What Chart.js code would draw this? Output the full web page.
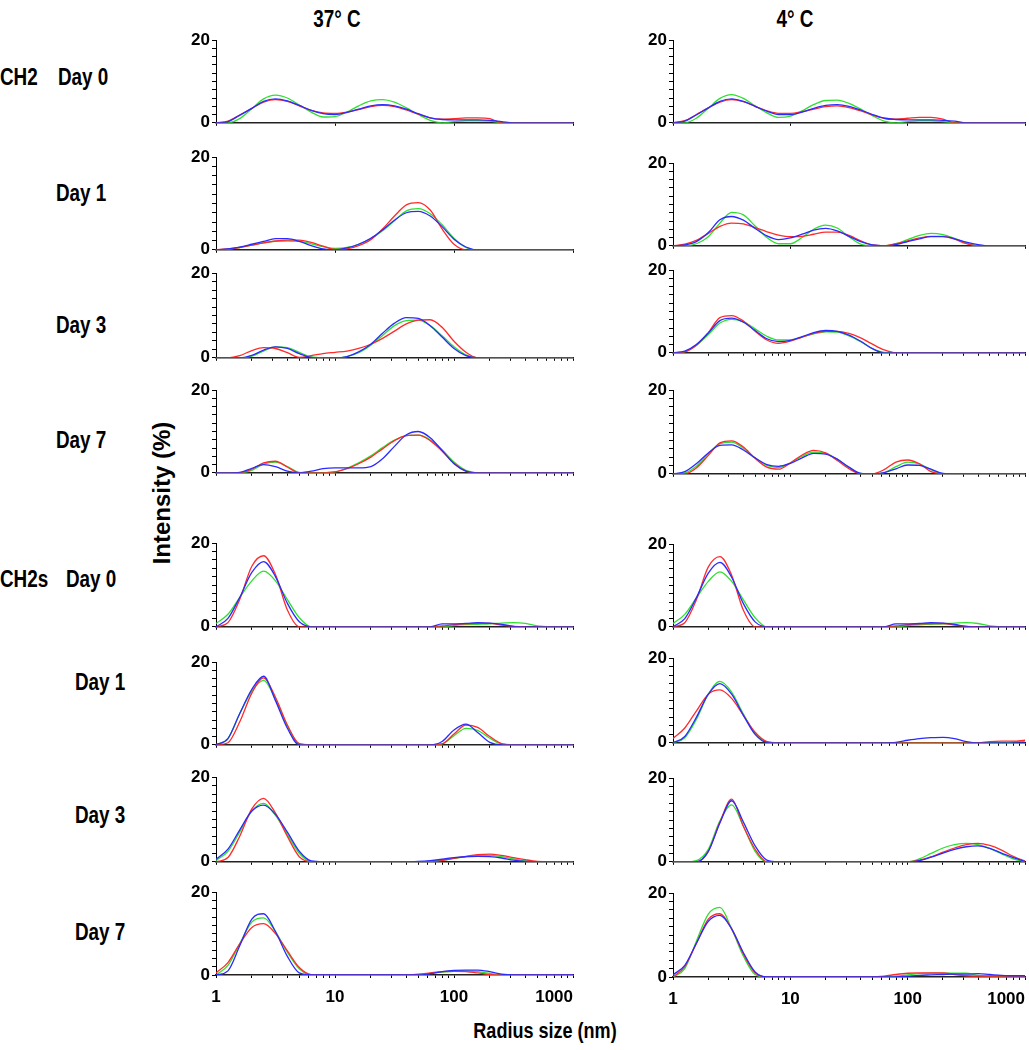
<!DOCTYPE html>
<html lang="en">
<head>
<meta charset="UTF-8">
<title>Radius size distributions CH2 / CH2s</title>
<script src="https://cdn.jsdelivr.net/npm/chart.js@4.4.0/dist/chart.umd.min.js"></script>
<style>
    body {
        margin: 0;
        width: 1029px;
        height: 1050px;
        overflow: hidden;
        position: relative;
        background: #fff;
        color: #000;
        font-family: 'Liberation Sans', Arial, sans-serif;
        font-weight: bold;
    }
    .lbl {
        position: absolute;
        font-size: 23px;
        line-height: 1;
        white-space: nowrap;
        transform-origin: 0 50%;
        transform: translateY(-50%) scaleX(0.82);
    }
    .center { transform-origin: 50% 50%; transform: translate(-50%, -50%) scaleX(0.82); }
    .vert { transform-origin: 50% 50%; transform: translate(-50%, -50%) rotate(-90deg); font-size: 24px; }
    canvas { position: absolute; }
</style>
</head>
<body>
    <div class="lbl center" style="left:337px; top:19px;">37° C</div>
    <div class="lbl center" style="left:795px; top:19px;">4° C</div>

    <div class="lbl" style="left:0px; top:77px;">CH2</div>
    <div class="lbl" style="left:58px; top:77px;">Day 0</div>
    <div class="lbl" style="left:56px; top:193px;">Day 1</div>
    <div class="lbl" style="left:56px; top:325px;">Day 3</div>
    <div class="lbl" style="left:56px; top:440px;">Day 7</div>

    <div class="lbl" style="left:0px; top:579px;">CH2s</div>
    <div class="lbl" style="left:66px; top:579px;">Day 0</div>
    <div class="lbl" style="left:75px; top:682px;">Day 1</div>
    <div class="lbl" style="left:75px; top:815px;">Day 3</div>
    <div class="lbl" style="left:75px; top:932px;">Day 7</div>

    <div class="lbl vert" style="left:162px; top:493px;">Intensity (%)</div>
    <div class="lbl center" style="left:545px; top:1031px; font-size:22px;">Radius size (nm)</div>

<script>
// radius grid (nm), 10 points per decade
const radius = [1, 1.26, 1.58, 2, 2.51, 3.16, 3.98, 5.01, 6.31, 7.94,
                10, 12.6, 15.8, 20, 25.1, 31.6, 39.8, 50.1, 63.1, 79.4,
                100, 126, 158, 200, 251, 316, 398, 501, 631, 794, 1000];

const xDecades = [1, 10, 100, 1000];
const xDecadeLabels = ['1', '10', '100', '1000'];
const xMinor = [2, 3, 4, 5, 6, 7, 8, 9, 20, 30, 40, 50, 60, 70, 80, 90, 200, 300, 400, 500, 600, 700, 800, 900];
const yLabelValues = [0, 20];

// ---- CH2, 37 C ----
const t37_ch2_d0_red   = [0, 0.4, 1.9, 3.5, 5.0, 5.6, 5.2, 4.1, 3.0, 2.4, 2.3, 2.6, 3.2, 3.9, 4.2, 3.9, 3.1, 2.1, 1.2, 0.9, 1.0, 1.2, 1.2, 1.0, 0, 0, 0, 0, 0, 0, 0];
const t37_ch2_d0_green = [0, 0, 1.0, 3.4, 5.8, 6.7, 6.0, 4.3, 2.6, 1.4, 1.5, 2.6, 4.1, 5.3, 5.6, 5.0, 3.6, 2.0, 0.6, 0, 0.3, 0.5, 0.5, 0.4, 0, 0, 0, 0, 0, 0, 0];
const t37_ch2_d0_blue  = [0, 0.3, 1.8, 3.5, 5.2, 5.8, 5.3, 4.2, 3.0, 2.2, 2.0, 2.5, 3.3, 4.1, 4.4, 4.1, 3.3, 2.2, 1.2, 0.8, 0.7, 0.7, 0.7, 0.6, 0.3, 0, 0, 0, 0, 0, 0];

const t37_ch2_d1_red   = [0, 0.2, 0.5, 1.0, 1.5, 1.9, 2.1, 2.1, 1.6, 0.8, 0.1, 0.2, 0.9, 2.2, 4.5, 7.3, 9.7, 10.2, 8.6, 4.5, 1.2, 0, 0, 0, 0, 0, 0, 0, 0, 0, 0];
const t37_ch2_d1_green = [0, 0.1, 0.5, 1.0, 1.5, 1.8, 1.9, 1.8, 1.3, 0.7, 0.3, 0.5, 1.2, 2.4, 4.1, 6.3, 8.4, 8.9, 7.8, 5.4, 2.5, 0.5, 0, 0, 0, 0, 0, 0, 0, 0, 0];
const t37_ch2_d1_blue  = [0, 0.2, 0.6, 1.2, 1.8, 2.4, 2.4, 1.8, 0.9, 0.2, 0, 0.4, 1.2, 2.5, 4.3, 6.4, 8.0, 8.3, 7.3, 5.0, 2.3, 0.6, 0, 0, 0, 0, 0, 0, 0, 0, 0];

const t37_ch2_d3_red   = [0, 0, 0.5, 1.7, 2.4, 2.2, 1.2, 0.1, 0.5, 1.0, 1.3, 1.6, 2.2, 3.2, 4.6, 6.3, 8.0, 8.9, 9.0, 7.2, 3.9, 1.3, 0, 0, 0, 0, 0, 0, 0, 0, 0];
const t37_ch2_d3_green = [0, 0, 0, 0.4, 1.6, 2.6, 2.4, 1.3, 0.2, 0, 0, 0.3, 1.2, 3.0, 5.3, 7.6, 8.8, 8.9, 7.6, 5.2, 2.6, 0.7, 0, 0, 0, 0, 0, 0, 0, 0, 0];
const t37_ch2_d3_blue  = [0, 0, 0, 0.6, 1.8, 2.6, 2.2, 1.0, 0.1, 0, 0, 0.3, 1.4, 3.2, 5.8, 8.2, 9.5, 9.3, 7.6, 4.9, 2.2, 0.5, 0, 0, 0, 0, 0, 0, 0, 0, 0];

const t37_ch2_d7_red   = [0, 0, 0, 0.9, 2.4, 2.8, 1.4, 0, 0, 0, 0.2, 1.0, 2.2, 3.8, 5.8, 7.8, 9.0, 9.1, 7.8, 5.3, 2.3, 0.4, 0, 0, 0, 0, 0, 0, 0, 0, 0];
const t37_ch2_d7_green = [0, 0, 0, 0.6, 2.1, 2.6, 1.5, 0.1, 0, 0, 0.2, 1.1, 2.4, 4.1, 6.1, 7.9, 9.0, 9.1, 8.0, 5.6, 2.6, 0.6, 0, 0, 0, 0, 0, 0, 0, 0, 0];
const t37_ch2_d7_blue  = [0, 0, 0.1, 1.1, 2.0, 1.5, 0.4, 0, 0.4, 1.0, 1.2, 1.2, 1.2, 1.5, 3.4, 6.4, 9.2, 10.0, 8.5, 5.4, 2.2, 0.4, 0, 0, 0, 0, 0, 0, 0, 0, 0];

// ---- CH2, 4 C ----
const t4_ch2_d0_red   = [0, 0.5, 2.0, 3.6, 5.0, 5.6, 5.1, 4.0, 2.9, 2.3, 2.3, 2.7, 3.3, 3.9, 4.1, 3.7, 2.9, 1.9, 1.1, 0.9, 1.1, 1.3, 1.3, 0.9, 0, 0, 0, 0, 0, 0, 0];
const t4_ch2_d0_green = [0, 0, 1.1, 3.5, 5.9, 6.8, 5.9, 4.1, 2.4, 1.3, 1.6, 2.9, 4.4, 5.4, 5.5, 4.7, 3.3, 1.7, 0.4, 0, 0.3, 0.5, 0.5, 0.3, 0, 0, 0, 0, 0, 0, 0];
const t4_ch2_d0_blue  = [0, 0.4, 1.9, 3.6, 5.2, 5.8, 5.2, 4.0, 2.8, 2.0, 2.0, 2.6, 3.5, 4.2, 4.4, 4.0, 3.1, 2.0, 1.1, 0.8, 0.7, 0.7, 0.7, 0.6, 0.4, 0, 0, 0, 0, 0, 0];

const t4_ch2_d1_red   = [0, 0.4, 1.3, 3.0, 4.7, 5.5, 5.3, 4.4, 3.4, 2.6, 2.2, 2.3, 2.8, 3.3, 3.3, 2.5, 1.2, 0.2, 0, 0.5, 1.2, 1.9, 2.3, 2.3, 1.6, 0.5, 0, 0, 0, 0, 0];
const t4_ch2_d1_green = [0, 0, 0.5, 2.2, 5.5, 8.1, 7.5, 4.8, 2.0, 0.5, 0.5, 2.0, 4.0, 5.0, 4.3, 2.2, 0.4, 0, 0, 0.5, 1.5, 2.5, 3.0, 2.7, 1.8, 0.7, 0, 0, 0, 0, 0];
const t4_ch2_d1_blue  = [0, 0.2, 1.0, 3.2, 6.3, 7.1, 6.2, 4.2, 2.4, 1.5, 1.9, 2.8, 3.8, 4.2, 3.6, 2.3, 1.0, 0.2, 0, 0.3, 1.0, 1.7, 2.2, 2.2, 1.7, 0.9, 0.3, 0, 0, 0, 0];

const t4_ch2_d3_red   = [0, 0.2, 1.8, 4.9, 8.5, 9.0, 7.7, 5.2, 3.1, 2.3, 2.8, 3.8, 4.7, 5.2, 5.2, 4.7, 3.6, 2.1, 0.7, 0, 0, 0, 0, 0, 0, 0, 0, 0, 0, 0, 0];
const t4_ch2_d3_green = [0, 0.3, 1.8, 4.4, 7.2, 8.1, 7.5, 5.8, 4.0, 3.1, 3.1, 3.8, 4.6, 5.1, 5.0, 4.1, 2.7, 1.0, 0.1, 0, 0, 0, 0, 0, 0, 0, 0, 0, 0, 0, 0];
const t4_ch2_d3_blue  = [0, 0.4, 2.0, 4.8, 7.8, 8.4, 7.4, 5.4, 3.4, 2.7, 3.0, 3.9, 4.9, 5.4, 5.2, 4.3, 2.8, 1.0, 0, 0, 0, 0, 0, 0, 0, 0, 0, 0, 0, 0, 0];

const t4_ch2_d7_red   = [0, 0, 1.4, 4.4, 7.4, 7.9, 6.4, 3.7, 1.6, 1.1, 2.6, 4.5, 5.6, 5.0, 3.2, 1.2, 0, 0, 1.0, 2.8, 3.3, 2.4, 0.5, 0, 0, 0, 0, 0, 0, 0, 0];
const t4_ch2_d7_green = [0, 0.2, 1.8, 4.8, 7.2, 7.6, 6.1, 3.8, 2.0, 1.5, 2.6, 4.2, 5.2, 4.9, 3.5, 1.5, 0.1, 0, 0.3, 1.7, 2.8, 2.4, 1.0, 0, 0, 0, 0, 0, 0, 0, 0];
const t4_ch2_d7_blue  = [0, 0.5, 2.4, 5.0, 6.8, 6.9, 5.7, 3.8, 2.2, 1.8, 2.5, 3.8, 4.9, 4.7, 3.5, 1.6, 0.1, 0, 0.3, 1.2, 2.1, 2.0, 1.1, 0.1, 0, 0, 0, 0, 0, 0, 0];

// ---- CH2s, 37 C ----
const t37_ch2s_d0_red   = [0, 1.0, 6.5, 14.5, 17.0, 12.5, 4.0, 0, 0, 0, 0, 0, 0, 0, 0, 0, 0, 0, 0, 0.2, 0.5, 0.7, 0.8, 0.8, 0.4, 0.1, 0, 0, 0, 0, 0];
const t37_ch2s_d0_green = [0.8, 3.0, 7.0, 11.0, 13.3, 11.0, 6.5, 2.2, 0, 0, 0, 0, 0, 0, 0, 0, 0, 0, 0, 0, 0.3, 0.5, 0.6, 0.7, 0.9, 1.0, 0.8, 0.2, 0, 0, 0];
const t37_ch2s_d0_blue  = [0, 2.0, 7.0, 13.0, 15.6, 12.0, 5.6, 1.2, 0, 0, 0, 0, 0, 0, 0, 0, 0, 0, 0, 0.7, 0.7, 0.8, 1.0, 0.9, 0.6, 0.1, 0, 0, 0, 0, 0];

const t37_ch2s_d1_red   = [0, 0.5, 5.5, 12.5, 16.2, 11.5, 4.8, 0.3, 0, 0, 0, 0, 0, 0, 0, 0, 0, 0, 0, 0.2, 2.6, 4.8, 4.2, 2.0, 0.3, 0, 0, 0, 0, 0, 0];
const t37_ch2s_d1_green = [0, 1.5, 7.5, 13.0, 15.6, 11.0, 4.5, 0.2, 0, 0, 0, 0, 0, 0, 0, 0, 0, 0, 0, 0.2, 2.2, 4.0, 3.5, 1.6, 0.2, 0, 0, 0, 0, 0, 0];
const t37_ch2s_d1_blue  = [0, 1.5, 7.5, 13.4, 16.6, 10.7, 4.0, 0, 0, 0, 0, 0, 0, 0, 0, 0, 0, 0, 0, 0.8, 3.6, 5.0, 3.0, 0.6, 0, 0, 0, 0, 0, 0, 0];

const t37_ch2s_d3_red   = [0, 1.0, 6.0, 12.5, 15.0, 11.5, 6.0, 1.2, 0, 0, 0, 0, 0, 0, 0, 0, 0, 0, 0, 0.3, 0.8, 1.3, 1.7, 1.8, 1.5, 1.0, 0.5, 0.1, 0, 0, 0];
const t37_ch2s_d3_green = [0.3, 2.5, 7.0, 12.0, 13.8, 11.0, 6.5, 2.0, 0, 0, 0, 0, 0, 0, 0, 0, 0, 0, 0.1, 0.4, 0.8, 1.2, 1.5, 1.5, 1.2, 0.7, 0.2, 0, 0, 0, 0];
const t37_ch2s_d3_blue  = [0.6, 3.0, 7.5, 12.0, 13.4, 11.2, 7.0, 2.5, 0.2, 0, 0, 0, 0, 0, 0, 0, 0, 0.1, 0.3, 0.6, 1.0, 1.2, 1.3, 1.2, 0.9, 0.4, 0.1, 0, 0, 0, 0];

const t37_ch2s_d7_red   = [0.5, 3.0, 7.5, 11.5, 12.4, 10.0, 5.8, 1.8, 0.1, 0, 0, 0, 0, 0, 0, 0, 0, 0.2, 0.5, 0.8, 0.9, 0.8, 0.5, 0.1, 0, 0, 0, 0, 0, 0, 0];
const t37_ch2s_d7_green = [0, 2.3, 7.5, 12.8, 13.8, 10.5, 5.5, 1.5, 0, 0, 0, 0, 0, 0, 0, 0, 0, 0.1, 0.4, 0.7, 0.9, 0.9, 0.8, 0.4, 0, 0, 0, 0, 0, 0, 0];
const t37_ch2s_d7_blue  = [0, 1.0, 7.0, 13.5, 14.8, 10.5, 4.5, 0.5, 0, 0, 0, 0, 0, 0, 0, 0, 0, 0, 0.3, 0.8, 1.1, 1.2, 1.2, 0.8, 0.2, 0, 0, 0, 0, 0, 0];

// ---- CH2s, 4 C ----
const t4_ch2s_d0_red   = [0, 1.0, 6.5, 14.5, 17.0, 12.5, 4.0, 0, 0, 0, 0, 0, 0, 0, 0, 0, 0, 0, 0, 0.2, 0.5, 0.7, 0.8, 0.8, 0.4, 0.1, 0, 0, 0, 0, 0];
const t4_ch2s_d0_green = [0.8, 3.0, 7.0, 11.0, 13.3, 11.0, 6.5, 2.2, 0, 0, 0, 0, 0, 0, 0, 0, 0, 0, 0, 0, 0.3, 0.5, 0.6, 0.7, 0.9, 1.0, 0.8, 0.2, 0, 0, 0];
const t4_ch2s_d0_blue  = [0, 2.0, 7.0, 13.0, 15.6, 12.0, 5.6, 1.2, 0, 0, 0, 0, 0, 0, 0, 0, 0, 0, 0, 0.7, 0.7, 0.8, 1.0, 0.9, 0.6, 0.1, 0, 0, 0, 0, 0];

const t4_ch2s_d1_red   = [1.0, 3.5, 7.5, 11.5, 12.5, 10.5, 6.5, 2.5, 0.3, 0, 0, 0, 0, 0, 0, 0, 0, 0, 0, 0, 0, 0, 0, 0, 0, 0, 0, 0.3, 0.4, 0.4, 0.6];
const t4_ch2s_d1_green = [0, 1.2, 5.5, 11.5, 14.5, 12.0, 6.8, 2.2, 0.2, 0, 0, 0, 0, 0, 0, 0, 0, 0, 0, 0, 0, 0, 0, 0, 0, 0, 0, 0, 0, 0.2, 0.4];
const t4_ch2s_d1_blue  = [0, 1.5, 6.0, 11.5, 14.0, 11.5, 6.5, 2.0, 0.1, 0, 0, 0, 0, 0, 0, 0, 0, 0, 0, 0.1, 0.6, 1.0, 1.2, 1.3, 1.0, 0.3, 0, 0, 0, 0, 0];

const t4_ch2s_d3_red   = [0, 0, 0, 2.5, 9.5, 15.0, 8.5, 3.0, 0, 0, 0, 0, 0, 0, 0, 0, 0, 0, 0, 0, 0, 0.4, 1.2, 2.3, 3.3, 4.1, 4.4, 3.9, 2.8, 1.3, 0.2];
const t4_ch2s_d3_green = [0, 0, 0.3, 3.0, 9.8, 13.6, 8.5, 2.5, 0, 0, 0, 0, 0, 0, 0, 0, 0, 0, 0, 0, 0, 0.7, 2.0, 3.3, 4.1, 4.4, 4.1, 3.2, 1.9, 0.7, 0];
const t4_ch2s_d3_blue  = [0, 0, 0, 2.5, 9.3, 14.6, 9.5, 3.8, 0.4, 0, 0, 0, 0, 0, 0, 0, 0, 0, 0, 0, 0, 0.3, 1.1, 2.1, 3.0, 3.6, 3.8, 3.2, 2.1, 1.0, 0.1];

const t4_ch2s_d7_red   = [0, 2.5, 8.0, 13.8, 15.1, 11.5, 5.5, 1.0, 0, 0, 0, 0, 0, 0, 0, 0, 0, 0, 0.2, 0.6, 0.9, 1.0, 1.0, 1.0, 0.6, 0.3, 0.2, 0.2, 0.2, 0.2, 0.2];
const t4_ch2s_d7_green = [0, 2.0, 8.5, 15.0, 16.6, 11.5, 5.0, 0.6, 0, 0, 0, 0, 0, 0, 0, 0, 0, 0, 0, 0.2, 0.5, 0.8, 0.9, 0.9, 0.9, 0.9, 0.4, 0.3, 0.3, 0.3, 0.3];
const t4_ch2s_d7_blue  = [0.5, 2.8, 8.0, 13.3, 14.7, 11.5, 5.8, 1.2, 0, 0, 0, 0, 0, 0, 0, 0, 0, 0, 0, 0, 0.2, 0.4, 0.5, 0.6, 0.7, 0.7, 0.8, 0.6, 0.4, 0.3, 0.3];

// panels: column 0 = 37 C, column 1 = 4 C
const panels = [
    { col: 0, row: 0, minor: false, red: t37_ch2_d0_red,  green: t37_ch2_d0_green,  blue: t37_ch2_d0_blue },
    { col: 0, row: 1, minor: false, red: t37_ch2_d1_red,  green: t37_ch2_d1_green,  blue: t37_ch2_d1_blue },
    { col: 0, row: 2, minor: true,  red: t37_ch2_d3_red,  green: t37_ch2_d3_green,  blue: t37_ch2_d3_blue },
    { col: 0, row: 3, minor: true,  red: t37_ch2_d7_red,  green: t37_ch2_d7_green,  blue: t37_ch2_d7_blue },
    { col: 0, row: 4, minor: true,  red: t37_ch2s_d0_red, green: t37_ch2s_d0_green, blue: t37_ch2s_d0_blue },
    { col: 0, row: 5, minor: true,  red: t37_ch2s_d1_red, green: t37_ch2s_d1_green, blue: t37_ch2s_d1_blue },
    { col: 0, row: 6, minor: true,  red: t37_ch2s_d3_red, green: t37_ch2s_d3_green, blue: t37_ch2s_d3_blue },
    { col: 0, row: 7, minor: true,  red: t37_ch2s_d7_red, green: t37_ch2s_d7_green, blue: t37_ch2s_d7_blue },
    { col: 1, row: 0, minor: false, red: t4_ch2_d0_red,   green: t4_ch2_d0_green,   blue: t4_ch2_d0_blue },
    { col: 1, row: 1, minor: false, red: t4_ch2_d1_red,   green: t4_ch2_d1_green,   blue: t4_ch2_d1_blue },
    { col: 1, row: 2, minor: true,  red: t4_ch2_d3_red,   green: t4_ch2_d3_green,   blue: t4_ch2_d3_blue },
    { col: 1, row: 3, minor: true,  red: t4_ch2_d7_red,   green: t4_ch2_d7_green,   blue: t4_ch2_d7_blue },
    { col: 1, row: 4, minor: true,  red: t4_ch2s_d0_red,  green: t4_ch2s_d0_green,  blue: t4_ch2s_d0_blue },
    { col: 1, row: 5, minor: true,  red: t4_ch2s_d1_red,  green: t4_ch2s_d1_green,  blue: t4_ch2s_d1_blue },
    { col: 1, row: 6, minor: true,  red: t4_ch2s_d3_red,  green: t4_ch2s_d3_green,  blue: t4_ch2s_d3_blue },
    { col: 1, row: 7, minor: true,  red: t4_ch2s_d7_red,  green: t4_ch2s_d7_green,  blue: t4_ch2s_d7_blue }
];

// plot box geometry (page pixels)
const plotLeft = [216, 673];
const plotRight = [573, 1025];
const plotTop = [[40, 157, 273, 390, 543, 662, 777, 892], [40, 163, 270, 390, 544, 658, 778, 893]];
const plotZero = [[123, 250, 358, 473, 627, 745, 862, 975], [123, 246, 353, 474, 627, 743, 862, 977]];
const PAD_L = 40, PAD_R = 40, PAD_T = 12;
const FONT = "'Liberation Sans', Arial, sans-serif";

function series(vals) {
    return radius.map((r, i) => ({ x: r, y: vals[i] }));
}

panels.forEach(p => {
    const last = p.row === 7;
    const padB = last ? 34 : 12;
    const w = plotRight[p.col] - plotLeft[p.col] + PAD_L + PAD_R;
    const h = plotZero[p.col][p.row] - plotTop[p.col][p.row] + PAD_T + padB;
    const c = document.createElement('canvas');
    c.width = w;
    c.height = h;
    c.style.left = (plotLeft[p.col] - PAD_L) + 'px';
    c.style.top = (plotTop[p.col][p.row] - PAD_T) + 'px';
    c.style.width = w + 'px';
    c.style.height = h + 'px';
    document.body.appendChild(c);

    const xTickValues = p.minor ? xDecades.concat(xMinor) : xDecades;

    new Chart(c, {
        type: 'line',
        data: {
            datasets: [
                { data: series(p.blue),  borderColor: '#2b2bff' },
                { data: series(p.red),   borderColor: '#ff2b2b' },
                { data: series(p.green), borderColor: '#2ee02e' }
            ]
        },
        options: {
            responsive: false,
            animation: false,
            devicePixelRatio: 1,
            layout: { padding: { top: PAD_T, right: PAD_R, bottom: 0, left: 0 } },
            plugins: { legend: { display: false }, tooltip: { enabled: false } },
            elements: {
                point: { radius: 0 },
                line: { borderWidth: 1.3, cubicInterpolationMode: 'monotone' }
            },
            scales: {
                x: {
                    type: 'logarithmic',
                    min: 1,
                    max: 1000,
                    afterBuildTicks: s => { s.ticks = xTickValues.map(v => ({ value: v })); },
                    afterFit: s => { s.height = padB; },
                    grid: { display: true, drawOnChartArea: false, drawTicks: true, tickLength: 3, color: '#000', lineWidth: 1 },
                    border: { display: true, color: '#222', width: 1.5 },
                    ticks: {
                        display: last,
                        autoSkip: false,
                        maxRotation: 0,
                        padding: 9,
                        color: '#000',
                        font: { family: FONT, size: 17, weight: 'bold' },
                        callback: v => {
                            const k = xDecades.indexOf(v);
                            if (k < 0) return '';
                            return xDecadeLabels[k] + (k === 3 ? '\u00a0'.repeat(8) : '');
                        }
                    }
                },
                y: {
                    min: 0,
                    max: 20,
                    afterFit: s => { s.width = PAD_L; },
                    grid: { display: true, drawOnChartArea: false, drawTicks: true, tickLength: 4, color: '#000', lineWidth: 1 },
                    border: { display: true, color: '#000', width: 1 },
                    ticks: {
                        stepSize: 2,
                        autoSkip: false,
                        padding: 2,
                        color: '#000',
                        font: { family: FONT, size: 17, weight: 'bold' },
                        callback: v => yLabelValues.includes(v) ? String(v) : ''
                    }
                }
            }
        }
    });
});
</script>
</body>
</html>
